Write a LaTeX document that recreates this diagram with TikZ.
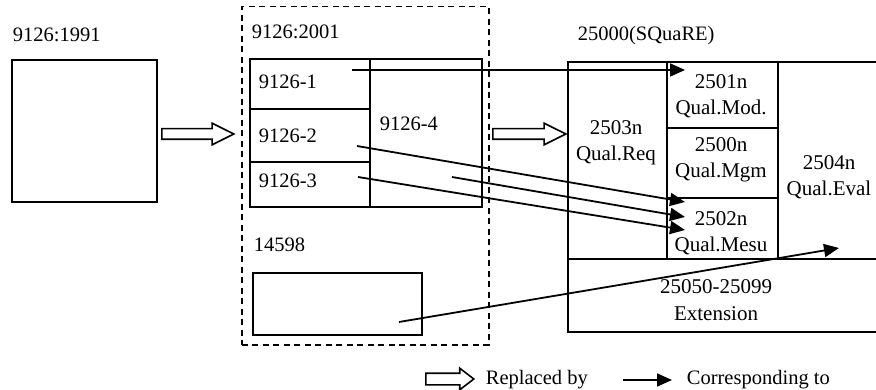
\documentclass[tikz,border=0pt]{standalone}
\usepackage{fontspec}
\setmainfont{Liberation Serif}
\usetikzlibrary{arrows.meta,calc,shapes.arrows}

\begin{document}
\begin{tikzpicture}[x=1pt,y=-1pt,line width=1.8pt,
 box/.style={draw,anchor=north west,inner sep=0pt},
 lbl/.style={anchor=base west,inner sep=0pt,font=\fontsize{20.5}{26}\selectfont},
 big/.style={anchor=base west,inner sep=0pt,font=\fontsize{20.5}{26}\selectfont},
 txt/.style={align=center,inner sep=0pt,font=\fontsize{21}{26.5}\selectfont},
 hollow/.style={single arrow,draw,anchor=tail,line width=1.6pt,inner sep=4.5pt,single arrow head extend=5.5pt,single arrow tip angle=53,minimum height=72pt},
 conn/.style={-{Triangle[length=15pt,width=13pt]}}]
\useasboundingbox (0,0) rectangle (876,390);
\clip (0,0) rectangle (876,390);

\node[lbl] (lold) at (12,42) {9126:1991};
\node[box,minimum width=145pt,minimum height=142pt] (old) at (11,59) {};
\node[hollow] (rep1) at (161,134) {};

\node[box,dashed,line width=1.5pt,dash pattern=on 6pt off 4.5pt,minimum width=247pt,minimum height=338pt] (grp) at (241,6) {};
\node[lbl] (lnew) at (251,39) {9126:2001};
\node[box,minimum width=120pt,minimum height=50pt] (p1) at (249,58) {};
\node[box,minimum width=120pt,minimum height=53pt] (p2) at (249,108) {};
\node[box,minimum width=120pt,minimum height=45pt] (p3) at (249,161) {};
\node[box,minimum width=112pt,minimum height=148pt] (p4) at (369,58) {};
\node[big] (t1) at (258,89) {9126-1};
\node[big] (t2) at (258,143) {9126-2};
\node[big] (t3) at (258,188) {9126-3};
\node[big] (t4) at (379,131) {9126-4};
\node[lbl] (l14598) at (253,252) {14598};
\node[box,minimum width=169pt,minimum height=62pt] (b14598) at (252,272) {};
\node[hollow,minimum height=73pt] (rep2) at (492,134) {};

\node[lbl] (lsq) at (577,41) {25000(SQuaRE)};
\node[box,minimum width=99pt,minimum height=197pt] (req) at (567,61) {};
\node[box,minimum width=111pt,minimum height=66pt] (mod) at (666,61) {};
\node[box,minimum width=111pt,minimum height=70pt] (mgm) at (666,127) {};
\node[box,minimum width=111pt,minimum height=61pt] (mesu) at (666,197) {};
\node[box,minimum width=110pt,minimum height=197pt] (evl) at (777,61) {};
\node[box,minimum width=320pt,minimum height=73pt] (ext) at (567,258) {};
\node[txt] (treq) at (616,143) {2503n\\Qual.Req};
\node[txt] (tmod) at (721,96) {2501n\\Qual.Mod.};
\node[txt] (tmgm) at (721,160) {2500n\\Qual.Mgm};
\node[txt] (tmesu) at (721,233) {2502n\\Qual.Mesu};
\node[txt] (tevl) at (829,177) {2504n\\Qual.Eval};
\node[txt] (text) at (716,300) {25050-25099\\Extension};

\coordinate (s1) at (352,70);
\coordinate (e1) at (685,70);
\coordinate (s2) at (357,146);
\coordinate (e2) at (685,202);
\coordinate (s4) at (452,177);
\coordinate (e4) at (685,217);
\coordinate (s3) at (358,177);
\coordinate (e3) at (685,230);
\coordinate (s5) at (399,322);
\coordinate (e5) at (839,248);
\draw[conn] (s1) -- (e1);
\draw[conn] (s2) -- (e2);
\draw[conn] (s4) -- (e4);
\draw[conn] (s3) -- (e3);
\draw[conn] (s5) -- (e5);

\node[hollow,minimum height=48pt,inner sep=5pt,single arrow head extend=5pt,single arrow tip angle=75] (key1) at (425,379) {};
\node[lbl] (lrep) at (485,384) {Replaced by};
\coordinate (k2a) at (623,380);
\coordinate (k2b) at (672,380);
\draw[conn] (k2a) -- (k2b);
\node[lbl] (lcor) at (686,384) {Corresponding to};
\end{tikzpicture}
\end{document}
